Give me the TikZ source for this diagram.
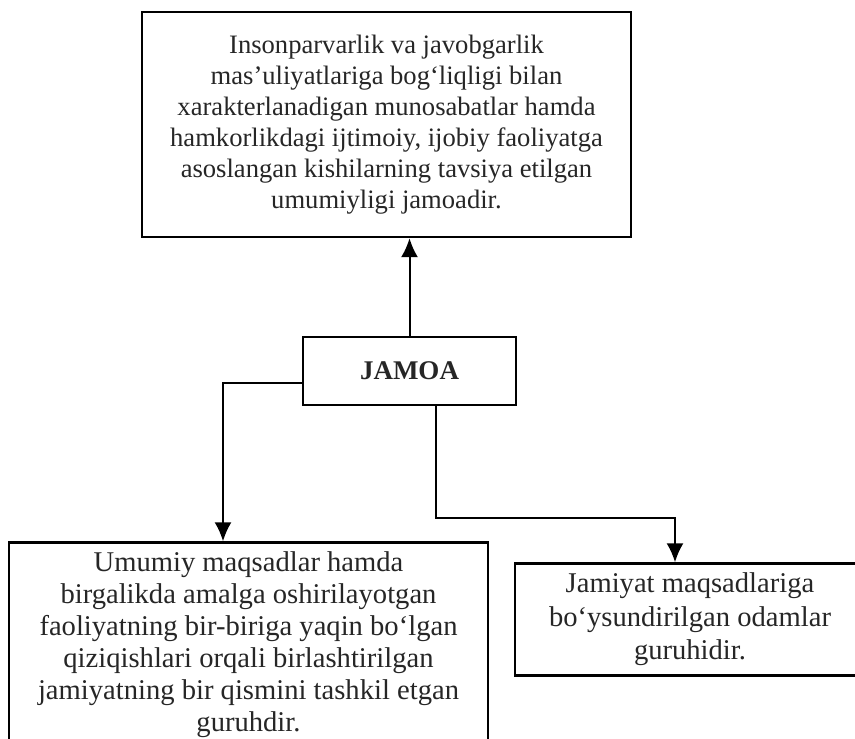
\documentclass[tikz,border=0pt]{standalone}
\usepackage{fontspec}
\setmainfont{Liberation Serif}
\usetikzlibrary{arrows.meta}

\tikzset{
  box/.style={draw, line width=1.2pt, align=center, inner sep=0pt, text=black!85},
  link/.style={line width=1pt, -{Latex[length=9.5pt,width=8.5pt]}}
}

\begin{document}
\begin{tikzpicture}[x=0.5pt, y=-0.5pt]
\useasboundingbox (0,0) rectangle (855,738);
\clip (0,0) rectangle (855,738);
\node [box, minimum width=244.5pt, minimum height=112.5pt,
  font=\fontsize{13.3}{15.5}\selectfont] (whole) at (386.5,124.5)
  {Insonparvarlik va javobgarlik\\
   mas'uliyatlariga bog\textquoteleft liqligi bilan\\
   xarakterlanadigan munosabatlar hamda\\
   hamkorlikdagi ijtimoiy, ijobiy faoliyatga\\
   asoslangan kishilarning tavsiya etilgan\\
   umumiyligi jamoadir.};
\node [box, minimum width=106.5pt, minimum height=34pt,
  font=\fontsize{13.5}{15}\selectfont\bfseries] (jamoa) at (409.5,371) {JAMOA};
\node [box, minimum width=239.5pt, minimum height=102pt,
  font=\fontsize{14.3}{16}\selectfont] (group) at (248.5,644.5)
  {Umumiy maqsadlar hamda\\
   birgalikda amalga oshirilayotgan\\
   faoliyatning bir-biriga yaqin bo\textquoteleft lgan\\
   qiziqishlari orqali birlashtirilgan\\
   jamiyatning bir qismini tashkil etgan\\
   guruhdir.};
\node [box, minimum width=175pt, minimum height=56pt,
  font=\fontsize{14.3}{16.7}\selectfont] (society) at (690,619.5)
  {Jamiyat maqsadlariga\\
   bo\textquoteleft ysundirilgan odamlar\\
   guruhidir.};
% connectors
\coordinate (bend) at (436,518);
\draw [link] (jamoa.north) -- (jamoa.north |- whole.south);
\draw [link] ([yshift=-6pt]jamoa.west) -| ([xshift=-12.75pt]group.north);
\draw [link] ([xshift=13.25pt]jamoa.south) -- (bend) -| ([xshift=-7.5pt]society.north);
\end{tikzpicture}
\end{document}
